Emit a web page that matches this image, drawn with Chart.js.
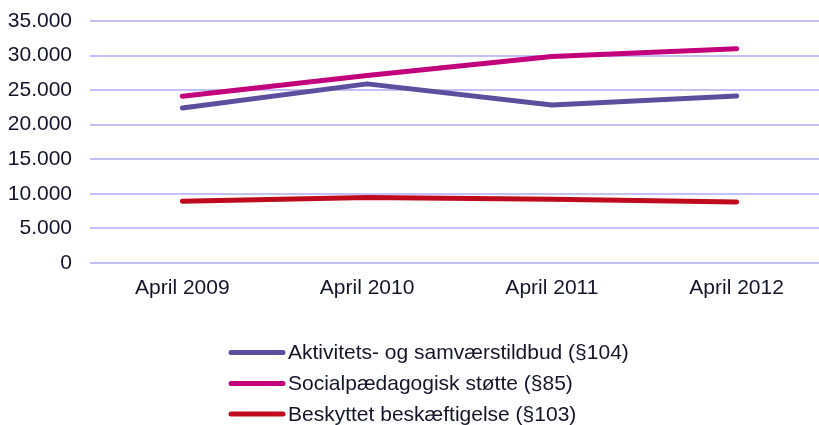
<!DOCTYPE html>
<html>
<head>
<meta charset="utf-8">
<script src="https://cdn.jsdelivr.net/npm/chart.js@4"></script>
<style>
  html, body { margin: 0; padding: 0; background: #fff; overflow: hidden; }
  #wrap { width: 829px; height: 425px; position: relative; }
</style>
</head>
<body>
<div id="wrap"><canvas id="chart"></canvas></div>
<script>
const labels = ['April 2009', 'April 2010', 'April 2011', 'April 2012'];
const aktivitets = [22400, 25900, 22850, 24150];
const social = [24100, 27100, 29850, 31000];
const beskyttet = [8900, 9450, 9200, 8800];

const seriesNames = [
    'Aktivitets- og samværstildbud (§104)',
    'Socialpædagogisk støtte (§85)',
    'Beskyttet beskæftigelse (§103)'
];
const seriesColors = ['#5b4f9d', '#c2007b', '#bf0a1d'];

const fontFamily = '"Liberation Sans", Arial, sans-serif';
const textColor = '#15152a';

function formatDK(v) {
    return String(v).replace(/\B(?=(\d{3})+(?!\d))/g, '.');
}

// legend drawn as a left aligned column, like the original
const columnLegend = {
    id: 'columnLegend',
    afterDraw(chart) {
        const ctx = chart.ctx;
        const x0 = 231, x1 = 283, tx = 288;
        const rows = [352.5, 383.5, 414];
        ctx.save();
        ctx.font = '21px ' + fontFamily;
        ctx.textBaseline = 'middle';
        chart.data.datasets.forEach((ds, i) => {
            ctx.strokeStyle = ds.borderColor;
            ctx.lineWidth = 5;
            ctx.lineCap = 'round';
            ctx.beginPath();
            ctx.moveTo(x0, rows[i]);
            ctx.lineTo(x1, rows[i]);
            ctx.stroke();
            ctx.fillStyle = textColor;
            ctx.textAlign = 'left';
            ctx.fillText(ds.label, tx, rows[i] + 1);
        });
        ctx.restore();
    }
};

const datasets = [aktivitets, social, beskyttet].map((data, i) => ({
    label: seriesNames[i],
    data: data,
    borderColor: seriesColors[i],
    backgroundColor: seriesColors[i],
    borderWidth: 5,
    borderCapStyle: 'round',
    borderJoinStyle: 'round',
    pointRadius: 0,
    pointHoverRadius: 0,
    tension: 0,
    clip: false
}));

new Chart(document.getElementById('chart'), {
    type: 'line',
    data: { labels: labels, datasets: datasets },
    options: {
        responsive: true,
        maintainAspectRatio: false,
        animation: false,
        layout: { padding: { top: 21, left: 0, right: 0, bottom: 111 } },
        plugins: {
            legend: { display: false },
            tooltip: { enabled: false }
        },
        scales: {
            x: {
                offset: true,
                grid: { display: false, drawTicks: false },
                border: { display: false },
                ticks: {
                    color: textColor,
                    font: { family: fontFamily, size: 21 },
                    padding: 13,
                    maxRotation: 0
                }
            },
            y: {
                min: 0,
                max: 35000,
                afterFit(scale) {
                    scale.width = 90;
                    scale.paddingTop = 0;
                },
                grid: { color: '#c3bff8', lineWidth: 2, drawTicks: false },
                border: { display: false },
                ticks: {
                    stepSize: 5000,
                    color: textColor,
                    font: { family: fontFamily, size: 21 },
                    padding: 18,
                    callback: v => formatDK(v)
                }
            }
        }
    },
    plugins: [columnLegend]
});
</script>
</body>
</html>
